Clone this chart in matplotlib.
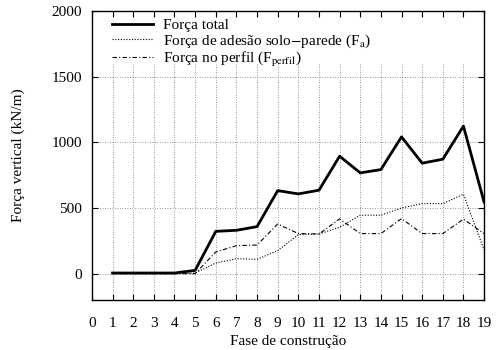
import matplotlib
matplotlib.use("Agg")
import matplotlib.pyplot as plt

plt.rcParams["font.family"] = ["Liberation Serif", "DejaVu Serif"]
plt.rcParams["mathtext.fontset"] = "stix"
plt.rcParams["font.size"] = 11

# construction phases and vertical forces (kN/m)
fase = list(range(1, 20))
forca_total = [5, 5, 5, 5, 25, 322, 330, 358, 632, 607, 635, 894, 767, 792,
               1041, 841, 871, 1123, 545]
forca_adesao = [0, 0, 0, 0, 5, 81, 114, 109, 175, 297, 302, 353, 445, 445,
                500, 533, 533, 605, 181]
forca_perfil = [0, 0, 0, 0, 0, 165, 213, 218, 378, 305, 302, 417, 305, 305,
                419, 305, 305, 415, 305]

x_ticks = list(range(0, 20))
y_ticks = [0, 500, 1000, 1500, 2000]

fig = plt.figure(figsize=(4.97, 3.5), dpi=100)
ax = fig.add_axes([0.185, 0.143, 0.789, 0.826])

ax.set_xlim(0, 19)
ax.set_ylim(-200, 2000)

# dotted grid; vertical lines stop below the key strip
grid_kw = dict(color="0.45", ls=(0, (1, 2)), lw=0.6, zorder=1)
ax.vlines(x_ticks[1:-1], -200, 1600, **grid_kw)
ax.hlines(y_ticks[:-1], 0, 19, **grid_kw)

ax.plot(fase, forca_total, color="black", lw=2.0, label="Força total", zorder=3)
ax.plot(fase, forca_adesao, color="black", lw=0.8, ls=(0, (1, 1.5)),
        label=r"Força de adesão solo$-$parede (F$_{\mathrm{a}}$)", zorder=3)
ax.plot(fase, forca_perfil, color="black", lw=0.8, ls=(0, (4, 2, 1, 2)),
        label=r"Força no perfil (F$_{\mathrm{perfil}}$)", zorder=3)

ax.set_xticks(x_ticks)
ax.set_yticks(y_ticks)
ax.tick_params(direction="in", top=True, right=True, length=4, width=0.8)
ax.tick_params(axis="x", pad=12)
ax.tick_params(axis="y", pad=7)
for s in ax.spines.values():
    s.set_linewidth(1.0)

ax.set_xlabel("Fase de construção", labelpad=4)
ax.set_ylabel("Força vertical (kN/m)", labelpad=19)

ax.legend(loc="upper left", bbox_to_anchor=(0.032, 1.0), frameon=False,
          handlelength=2.7, handletextpad=0.65, labelspacing=0.0,
          borderaxespad=0.15, borderpad=0.35)

fig.savefig("out.png", dpi=100)
